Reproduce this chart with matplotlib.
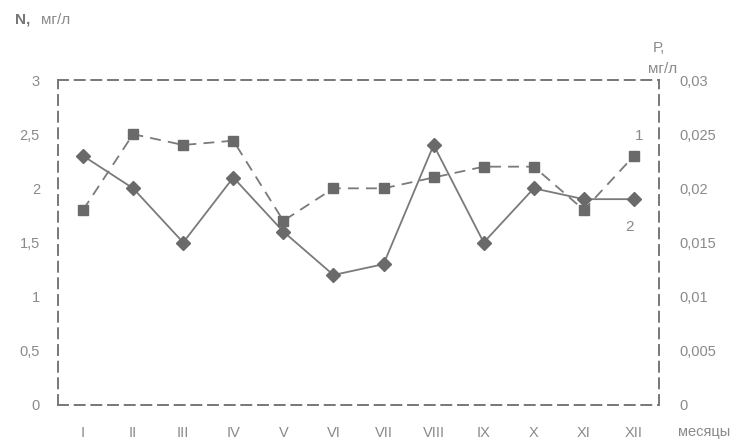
import matplotlib.pyplot as plt
import numpy as np

plt.rcParams['font.family'] = ['Liberation Sans', 'DejaVu Sans']

months = ['I', 'II', 'III', 'IV', 'V', 'VI', 'VII', 'VIII', 'IX', 'X', 'XI', 'XII']
n_vals = [2.3, 2.0, 1.5, 2.1, 1.6, 1.2, 1.3, 2.4, 1.5, 2.0, 1.9, 1.9]
p_vals = [0.018, 0.025, 0.024, 0.0244, 0.017, 0.020, 0.020, 0.021, 0.022, 0.022, 0.018, 0.023]

n_ticks = [0, 0.5, 1, 1.5, 2, 2.5, 3]
p_ticks = [0, 0.005, 0.01, 0.015, 0.02, 0.025, 0.03]

txt = '#8a8a8a'
ln = '#7a7a7a'
mk = '#6a6a6a'

fig = plt.figure(figsize=(7.44, 4.41), dpi=100)
ax1 = fig.add_axes([58/744, 1-405/441, 601/744, 325/441])
ax2 = ax1.twinx()

x = np.arange(len(months))
ax1.plot(x, n_vals, color=ln, lw=1.3, marker='D', ms=7, mfc=mk, mec=mk, zorder=3)
ax2.plot(x, p_vals, color=ln, lw=1.3, ls=(0, (6, 4)), marker='s', ms=7.5, mfc=mk, mec=mk, zorder=3)

ax1.set_xlim(-0.5, 11.5)
ax1.set_ylim(0, 3)
ax2.set_ylim(0, 0.03)
ax1.set_xticks(x)
ax1.set_xticklabels(months)
ax1.set_yticks(n_ticks)
ax1.set_yticklabels(['0', '0,5', '1', '1,5', '2', '2,5', '3'])
ax2.set_yticks(p_ticks)
ax2.set_yticklabels(['0', '0,005', '0,01', '0,015', '0,02', '0,025', '0,03'])

for ax in (ax1, ax2):
    ax.tick_params(length=0, colors=txt, labelsize=10.5)
    for s in ax.spines.values():
        s.set_linestyle((0, (6, 4)))
        s.set_color('#777777')
        s.set_linewidth(1.2)
ax1.tick_params(axis='x', pad=15)
ax1.tick_params(axis='y', pad=13)
ax2.tick_params(axis='y', pad=15)

fig.text(15/744, 1-20/441, 'N,', color='#777777', fontsize=11, fontweight='bold', va='center')
fig.text(41/744, 1-20/441, 'мг/л', color=txt, fontsize=11, va='center')
fig.text(659/744, 1-48/441, 'P,', color=txt, fontsize=11, va='center', ha='center')
fig.text(663/744, 1-69/441, 'мг/л', color=txt, fontsize=11, va='center', ha='center')
fig.text(678/744, 1-432/441, 'месяцы', color=txt, fontsize=10.5, va='center')
fig.text(639/744, 1-136/441, '1', color=txt, fontsize=11, va='center', ha='center')
fig.text(629/744, 1-227/441, '2', color=txt, fontsize=11, va='center', ha='center')

fig.savefig('out.png', dpi=100)
